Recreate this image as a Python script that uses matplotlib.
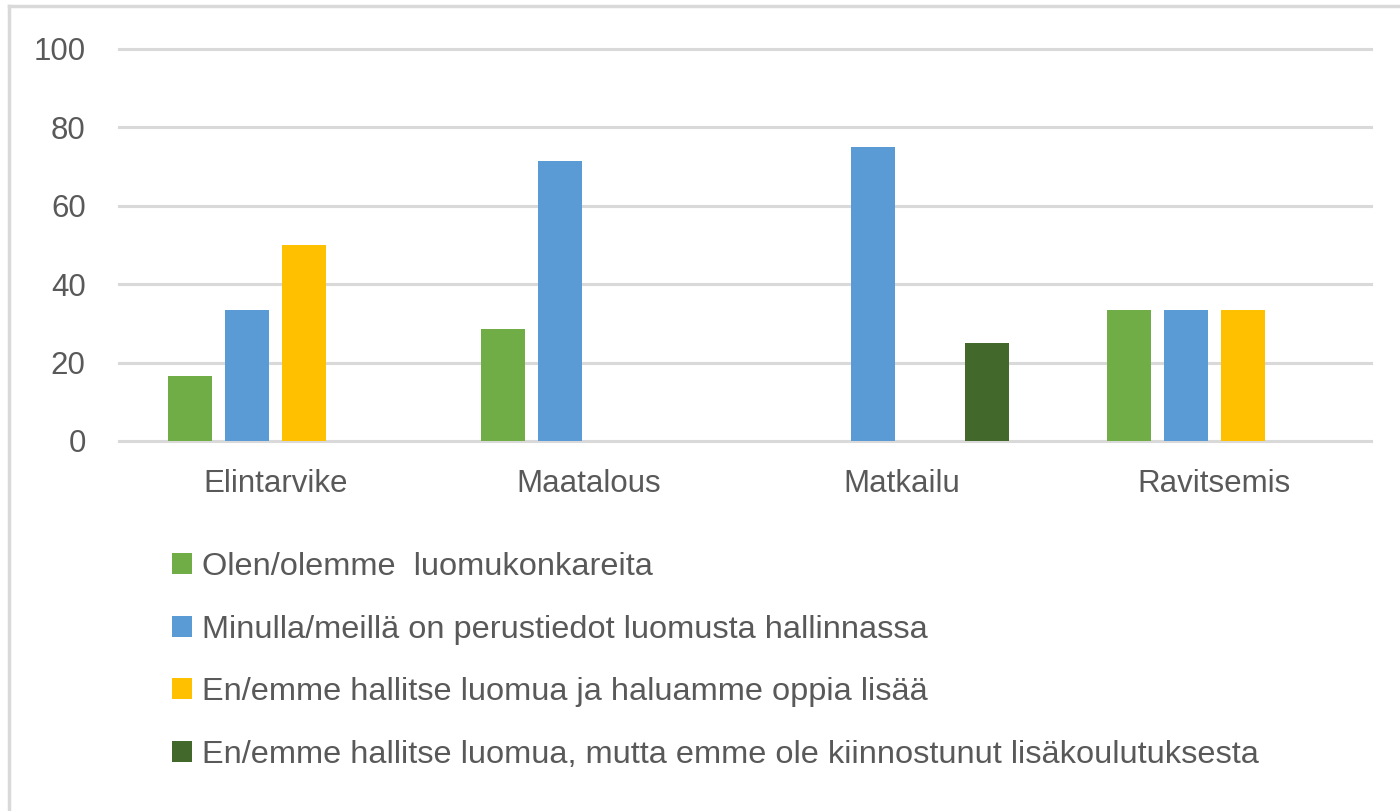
import matplotlib

matplotlib.use("Agg")
import matplotlib.pyplot as plt
import numpy as np
from matplotlib.lines import Line2D

categories = ["Elintarvike", "Maatalous", "Matkailu", "Ravitsemis"]
series_labels = [
    "Olen/olemme  luomukonkareita",
    "Minulla/meillä on perustiedot luomusta hallinnassa",
    "En/emme hallitse luomua ja haluamme oppia lisää",
    "En/emme hallitse luomua, mutta emme ole kiinnostunut lisäkoulutuksesta",
]
konkarit = [16.7, 28.6, 0, 33.3]
perustiedot = [33.3, 71.4, 75.0, 33.3]
oppia_lisaa = [50.0, 0, 0, 33.3]
ei_kiinnostunut = [0, 0, 25.0, 0]
y_ticks = [0, 20, 40, 60, 80, 100]

colors = ["#70AD47", "#5B9BD5", "#FFC000", "#43682B"]
text_color = "#595959"
grid_color = "#D9D9D9"

plt.rcParams["font.family"] = ["Liberation Sans", "DejaVu Sans"]

fig = plt.figure(figsize=(14, 8.11), dpi=100)
ax = fig.add_axes([119 / 1400, 370 / 811, 1252 / 1400, 392 / 811])

x = np.arange(len(categories))
width = 0.14
pitch = 0.182
all_series = [konkarit, perustiedot, oppia_lisaa, ei_kiinnostunut]
handles = []
for i, (vals, color, label) in enumerate(zip(all_series, colors, series_labels)):
    bars = ax.bar(x + (i - 1.5) * pitch, vals, width, color=color, label=label, zorder=3)
    handles.append(bars)

ax.set_xlim(-0.5, len(categories) - 0.5)
ax.set_ylim(0, 100)
ax.set_yticks(y_ticks)
ax.set_xticks(x)
ax.set_xticklabels(categories)
ax.yaxis.grid(True, color=grid_color, linewidth=2.2, zorder=0, clip_on=False)
ax.set_axisbelow(True)
for spine in ax.spines.values():
    spine.set_visible(False)
ax.tick_params(axis="y", length=0, pad=24, labelsize=22.5, labelcolor=text_color)
ax.tick_params(axis="x", length=0, pad=20, labelsize=22.5, labelcolor=text_color)

fig.legend(
    handles,
    series_labels,
    loc="upper left",
    bbox_to_anchor=(156 / 1400, 1 - 536 / 811),
    frameon=False,
    fontsize=23.4,
    labelcolor=text_color,
    handlelength=0.62,
    handleheight=0.62,
    handletextpad=0.3,
    labelspacing=1.0,
    borderpad=0,
)

# light frame around the chart (top and left visible)
fig.add_artist(Line2D([9 / 1400, 1.0], [1 - 6 / 811, 1 - 6 / 811], color=grid_color, linewidth=2.5))
fig.add_artist(Line2D([9 / 1400, 9 / 1400], [0, 1 - 6 / 811], color=grid_color, linewidth=2.5))

fig.savefig("out.png", dpi=100)
